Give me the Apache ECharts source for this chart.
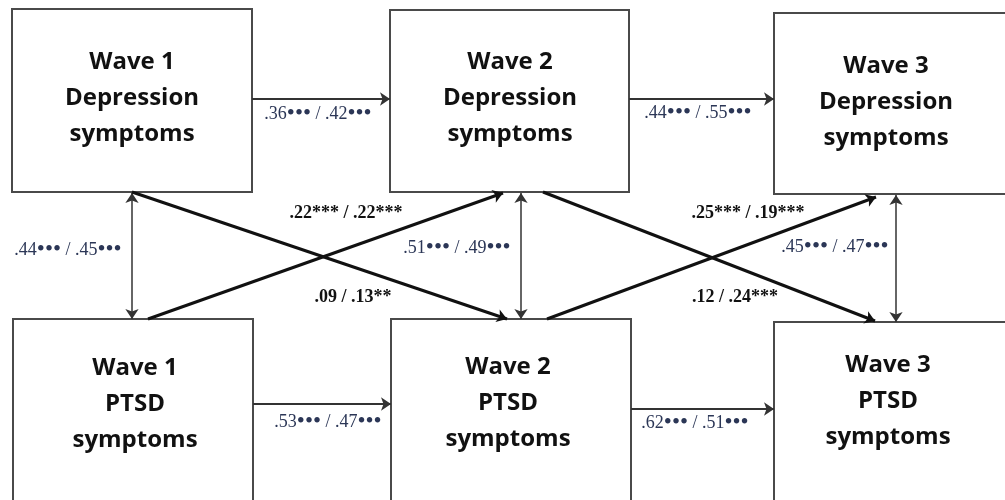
<!DOCTYPE html>
<html>
<head>
<meta charset="utf-8">
<script src="https://cdn.jsdelivr.net/npm/echarts@6/dist/echarts.min.js"></script>
<style>
  html, body { margin: 0; padding: 0; background: #fff; }
  #chart { width: 1005px; height: 500px; }
</style>
</head>
<body>
<div id="chart"></div>
<script>
// node texts
const nodeNames = [
    'Wave 1\nDepression\nsymptoms', 'Wave 2\nDepression\nsymptoms', 'Wave 3\nDepression\nsymptoms',
    'Wave 1\nPTSD\nsymptoms', 'Wave 2\nPTSD\nsymptoms', 'Wave 3\nPTSD\nsymptoms'
];
// path coefficients (first / second sample)
const depStability = ['.36••• / .42•••', '.44••• / .55•••'];
const ptsdStability = ['.53••• / .47•••', '.62••• / .51•••'];
const withinWave = ['.44••• / .45•••', '.51••• / .49•••', '.45••• / .47•••'];
const depToPtsd = ['.09 / .13**', '.12 / .24***'];
const ptsdToDep = ['.22*** / .22***', '.25*** / .19***'];

// layout (pixel space of the diagram)
const nodeBoxes = [
    [12, 9, 252, 192], [390, 10, 629, 192], [774, 13, 1014, 194],
    [13, 319, 253, 520], [391, 319, 631, 520], [774, 322, 1014, 520]
];
const nodeTextPos = [[132, 98], [510, 98], [886, 102], [135, 404], [508, 403], [888, 401]];

const depStabilityLines = [[[252, 99], [390, 99]], [[629, 99], [774, 99]]];
const ptsdStabilityLines = [[[253, 404], [391, 404]], [[631, 409], [774, 409]]];
const withinLines = [[[132, 193], [132, 319]], [[521, 193], [521, 319]], [[896, 195], [896, 322]]];
const depToPtsdLines = [[[132, 192], [507, 319]], [[543, 192], [875, 321]]];
const ptsdToDepLines = [[[148, 319], [503, 193]], [[547, 319], [876, 197]]];

const depStabilityPos = [[318, 114], [698, 113]];
const ptsdStabilityPos = [[328, 422], [695, 423]];
const withinPos = [[68, 250], [457, 248], [835, 247]];
const depToPtsdPos = [[353, 297], [735, 297]];
const ptsdToDepPos = [[346, 213], [748, 213]];

const chart = echarts.init(document.getElementById('chart'));

function linesSeries(lines, symbol, width, color) {
    return {
        type: 'lines',
        coordinateSystem: 'cartesian2d',
        symbol: symbol,
        symbolSize: 10,
        lineStyle: { color: color, width: width, opacity: 1, curveness: 0 },
        silent: true,
        z: 3,
        data: lines.map(c => ({ coords: c }))
    };
}

function labelSeries(texts, pos, bold) {
    const color = bold ? '#111' : '#2b3656';
    return {
        type: 'custom',
        silent: true,
        z: 5,
        data: texts.map((t, i) => [pos[i][0], pos[i][1], t]),
        renderItem: (params, api) => {
            const p = api.coord([api.value(0), api.value(1)]);
            // significance dots are printed larger than the digits
            const text = texts[params.dataIndex].replace(/(•+)/g, '{d|$1}');
            return {
                type: 'text',
                style: {
                    text: text,
                    x: p[0], y: p[1],
                    align: 'center', verticalAlign: 'middle',
                    font: (bold ? 'bold ' : '') + '18px "Liberation Serif", serif',
                    fill: color,
                    rich: {
                        d: { font: '23px "Liberation Serif", serif', fill: color }
                    }
                }
            };
        }
    };
}

const option = {
    animation: false,
    backgroundColor: '#fff',
    grid: { left: 0, right: 0, top: 0, bottom: 0 },
    xAxis: { type: 'value', min: 0, max: 1005, show: false },
    yAxis: { type: 'value', min: 0, max: 500, inverse: true, show: false },
    series: [
        {
            type: 'custom',
            silent: true,
            z: 2,
            data: nodeBoxes.map((b, i) => [b[0], b[1], b[2], b[3], nodeTextPos[i][0], nodeTextPos[i][1]]),
            renderItem: (params, api) => {
                const p0 = api.coord([api.value(0), api.value(1)]);
                const p1 = api.coord([api.value(2), api.value(3)]);
                const t = api.coord([api.value(4), api.value(5)]);
                return {
                    type: 'group',
                    children: [{
                        type: 'rect',
                        shape: { x: p0[0], y: p0[1], width: p1[0] - p0[0], height: p1[1] - p0[1] },
                        style: { fill: '#fff', stroke: '#4a4a4a', lineWidth: 2 }
                    }, {
                        type: 'text',
                        style: {
                            text: nodeNames[params.dataIndex],
                            x: t[0], y: t[1],
                            align: 'center', verticalAlign: 'middle',
                            font: 'bold 24px "Open Sans", sans-serif',
                            lineHeight: 36,
                            fill: '#111'
                        }
                    }]
                };
            }
        },
        linesSeries(depStabilityLines, ['none', 'arrow'], 2, '#333'),
        linesSeries(ptsdStabilityLines, ['none', 'arrow'], 2, '#333'),
        linesSeries(withinLines, ['arrow', 'arrow'], 1.5, '#333'),
        linesSeries(depToPtsdLines, ['none', 'arrow'], 3, '#111'),
        linesSeries(ptsdToDepLines, ['none', 'arrow'], 3, '#111'),
        labelSeries(depStability, depStabilityPos, false),
        labelSeries(ptsdStability, ptsdStabilityPos, false),
        labelSeries(withinWave, withinPos, false),
        labelSeries(depToPtsd, depToPtsdPos, true),
        labelSeries(ptsdToDep, ptsdToDepPos, true)
    ]
};

chart.setOption(option);
</script>
</body>
</html>
